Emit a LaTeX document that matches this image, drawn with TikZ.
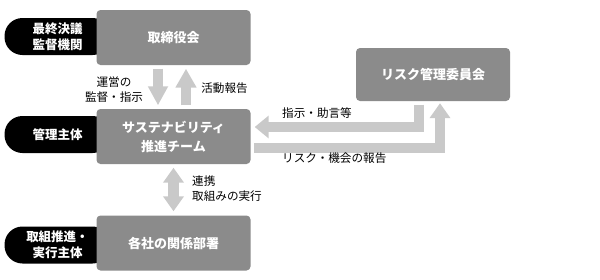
\documentclass[tikz,border=0pt]{standalone}
\usepackage{fontspec}
\setmainfont{Noto Sans CJK JP}
\usetikzlibrary{arrows.meta, positioning}
\definecolor{BoxColor}{RGB}{139, 139, 139}
\definecolor{ArrowColor}{RGB}{201, 201, 201}

\begin{document}
\begin{tikzpicture}[
    x=1pt, y=-1pt,
    orgbox/.style={rectangle, rounded corners=4pt, fill=BoxColor, text=white,
        minimum width=154pt, minimum height=55pt, align=center,
        font=\fontsize{13}{19}\selectfont\bfseries}, % Style for the organisation boxes
    rolepill/.style={rectangle, rounded corners=18pt, fill=black, text=white,
        minimum width=106pt, minimum height=37pt, align=center, text width=80pt,
        font=\fontsize{12.5}{16}\selectfont\bfseries}, % Style for the black role labels
    flow/.style={ArrowColor, line width=10.5pt, line join=miter,
        shorten <=3.5pt, shorten >=3.5pt}, % Style for the wide gray arrows
    note/.style={font=\fontsize{11.6}{15}\selectfont, align=center, inner sep=0pt}
]

\useasboundingbox (0, 0) rectangle (600, 279);

% --- Black role pills (drawn first, the boxes cover their right end) ---
\node[rolepill] (pilltop) at (57.5, 36.5) {最終決議\\監督機関};
\node[rolepill] (pillmid) at (57.5, 134.5) {管理主体};
\node[rolepill] (pillbot) at (57.5, 245) {取組推進・\\実行主体};

% --- Organisation boxes ---
\node[orgbox] (board) at (173.5, 37.5) {取締役会};
\node[orgbox] (team) at (173.5, 136.5) {サステナビリティ\\推進チーム};
\node[orgbox] (depts) at (173.5, 243) {各社の関係部署};
\node[orgbox, minimum height=53pt] (risk) at (433, 74.5) {リスク管理委員会};

% --- Arrows between board and team ---
\draw[flow, -{Triangle[width=19pt, length=19pt]}]
    ([xshift=-15.5pt]board.south) -- ([xshift=-15.5pt]team.north);
\draw[flow, -{Triangle[width=20pt, length=19pt]}]
    ([xshift=12.5pt]team.north) -- ([xshift=12.5pt]board.south);
\node[note] (superv) at (114, 89.5) {運営の\\監督・指示};
\node[note] (report) at (224.5, 88) {活動報告};

% --- Arrow between team and departments ---
\draw[flow, shorten >=4pt, {Triangle[width=20pt, length=15pt]}-{Triangle[width=20pt, length=15pt]}]
    (team.south) -- (depts.north);
\node[note, anchor=west, align=left] (collab) at (192, 189) {連携\\取組みの実行};

% --- Arrows between risk committee and team ---
\draw[flow, shorten >=4pt, -{Triangle[width=22pt, length=14pt]}]
    ([xshift=-14pt]risk.south) |- ([yshift=9.5pt]team.east);
\draw[flow, shorten >=2pt, -{Triangle[width=20pt, length=15pt]}]
    ([yshift=-11.5pt]team.east) -| ([xshift=7pt]risk.south);
\node[note, anchor=west] (advice) at (282, 113) {指示・助言等};
\node[note, anchor=west] (riskrep) at (282, 158) {リスク・機会の報告};

\end{tikzpicture}
\end{document}
